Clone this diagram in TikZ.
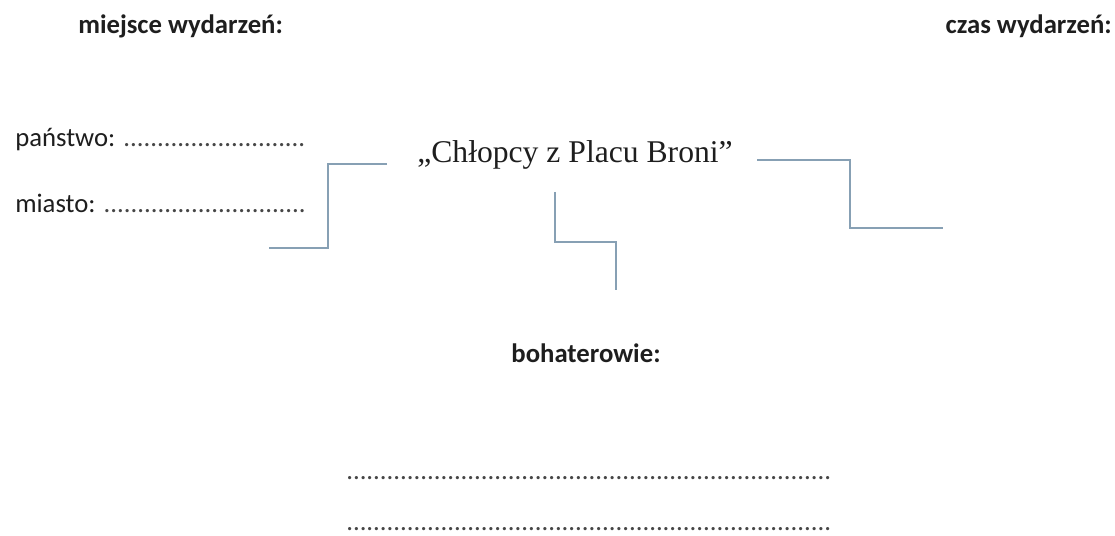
\documentclass[tikz,border=0pt]{standalone}
\usepackage{fontspec}
\setmainfont{Liberation Serif}
\newfontfamily\calibri{Carlito}
\definecolor{linegray}{RGB}{135,160,180}
\definecolor{inkgray}{RGB}{30,30,30}
\definecolor{dotgray}{RGB}{70,70,70}
\newcommand{\dotrow}[1]{\foreach \i in {1,...,#1}{.}}
\begin{document}
\begin{tikzpicture}[x=0.025cm, y=-0.025cm,
    plain/.style={inner sep=0pt, text=inkgray, font=\calibri\fontsize{19}{22}\selectfont},
    head/.style={plain, font=\calibri\bfseries\fontsize{19}{22}\selectfont},
    stepline/.style={draw=linegray, line width=1.4pt}]
            \useasboundingbox (0,0) rectangle (1115,536);
            \node[head, anchor=base west] (place) at (78,34) {miejsce wydarzeń:};
            \node[head, anchor=base east] (time) at (1112,34) {czas wydarzeń:};
            \node[plain, anchor=base west] (country) at (15,147) {państwo: \textcolor{dotgray}{\dotrow{27}}};
            \node[plain, anchor=base west] (city) at (15,213) {miasto: \textcolor{dotgray}{\dotrow{30}}};
            \node[inner sep=0pt, text=inkgray, font=\fontsize{22.5}{26}\selectfont, anchor=base] (title) at (575,163) {„Chłopcy z Placu Broni”};
            \node[head, anchor=base] (heroes) at (586,363) {bohaterowie:};
            \node[plain, text=dotgray, anchor=base west] (heroesa) at (346,479) {\dotrow{72}};
            \node[plain, text=dotgray, anchor=base west] (heroesb) at (346,530) {\dotrow{72}};
            \coordinate (la) at (387,164);
            \coordinate (lb) at (269,248);
            \coordinate (ma) at (555,192);
            \coordinate (mb) at (616,290);
            \coordinate (ra) at (757,160);
            \coordinate (rb) at (943,228);
            \draw[stepline] (la) -- (328,164) -- (328,248) -- (lb);
            \draw[stepline] (ma) |- (585,242) -| (mb);
            \draw[stepline] (ra) -- (850,160) -- (850,228) -- (rb);
        \end{tikzpicture}
\end{document}
